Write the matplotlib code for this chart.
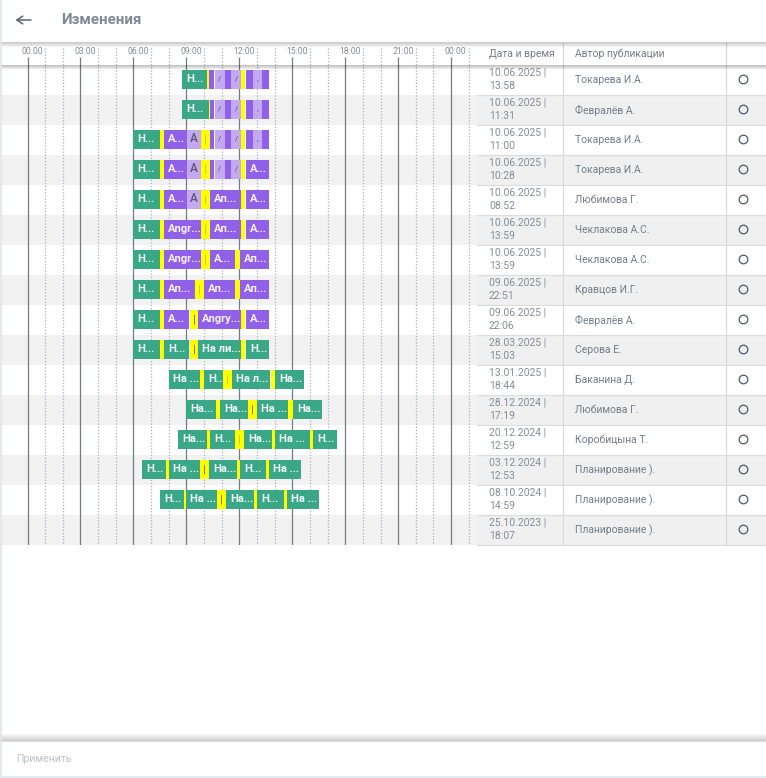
import numpy as np
import matplotlib
matplotlib.use('Agg')
import matplotlib.pyplot as plt

plt.rcParams['font.family'] = ['Roboto', 'DejaVu Sans']

W, H = 766, 778

GREEN = '#3aa887'
PURPLE = '#9160e8'
LIGHT = '#c3a9f1'
YELLOW = '#ffff00'
colors = {'g': GREEN, 'p': PURPLE, 'l': LIGHT, 'y': YELLOW}

# hour ticks
tick_labels = ['00:00', '03:00', '06:00', '09:00', '12:00', '15:00', '18:00', '21:00', '00:00']
tick_hours = [0, 3, 6, 9, 12, 15, 18, 21, 24]
minor_hours = [1, 2, 4, 5, 7, 8, 10, 11, 13, 14, 16, 17, 19, 20, 22, 23, 25]

# table
dates = ['10.06.2025 |', '10.06.2025 |', '10.06.2025 |', '10.06.2025 |', '10.06.2025 |', '10.06.2025 |',
         '10.06.2025 |', '09.06.2025 |', '09.06.2025 |', '28.03.2025 |', '13.01.2025 |', '28.12.2024 |',
         '20.12.2024 |', '03.12.2024 |', '08.10.2024 |', '25.10.2023 |']
times = ['13:58', '11:31', '11:00', '10:28', '08:52', '13:59', '13:59', '22:51', '22:06', '15:03', '18:44',
         '17:19', '12:59', '12:53', '14:59', '18:07']
authors = ['Токарева И.А.', 'Февралёв А.', 'Токарева И.А.', 'Токарева И.А.', 'Любимова Г.', 'Чеклакова А.С.',
           'Чеклакова А.С.', 'Кравцов И.Г.', 'Февралёв А.', 'Серова Е.', 'Баканина Д.', 'Любимова Г.',
           'Коробицына Т.', 'Планирование ).', 'Планирование ).', 'Планирование ).']

# segments per row: start hour, end hour, kind, label
row_01 = [(8.75, 10.17, 'g', 'Н...'), (10.17, 10.28, 'y', ''), (10.28, 10.57, 'p', ''), (10.61, 11.19, 'l', '/'),
          (11.19, 11.53, 'p', ''), (11.53, 12.10, 'l', '/'), (12.10, 12.32, 'y', ''), (12.38, 12.78, 'p', ''),
          (12.78, 13.29, 'l', ','), (13.29, 13.68, 'p', '')]
row_02 = [(8.75, 10.28, 'g', 'Н...'), (10.28, 10.34, 'y', ''), (10.34, 10.57, 'p', ''), (10.61, 11.19, 'l', '/'),
          (11.19, 11.53, 'p', ''), (11.53, 12.10, 'l', '/'), (12.10, 12.32, 'y', ''), (12.38, 12.78, 'p', ''),
          (12.78, 13.29, 'l', ','), (13.29, 13.68, 'p', '')]
row_03 = [(6.00, 7.51, 'g', 'Н...'), (7.51, 7.73, 'y', ''), (7.73, 9.02, 'p', 'А...'), (9.02, 9.83, 'l', 'А'),
          (9.83, 10.34, 'y', '|'), (10.34, 10.57, 'p', ''), (10.61, 11.19, 'l', '/'), (11.19, 11.53, 'p', ''),
          (11.53, 12.10, 'l', '/'), (12.10, 12.32, 'y', ''), (12.38, 12.78, 'p', ''), (12.78, 13.29, 'l', ','),
          (13.29, 13.68, 'p', '')]
row_04 = [(6.00, 7.51, 'g', 'Н...'), (7.51, 7.73, 'y', ''), (7.73, 9.02, 'p', 'А...'), (9.02, 9.83, 'l', 'А'),
          (9.83, 10.34, 'y', '|'), (10.34, 10.57, 'p', ''), (10.61, 11.19, 'l', '/'), (11.19, 11.53, 'p', ''),
          (11.53, 12.10, 'l', '/'), (12.10, 12.32, 'y', ''), (12.38, 13.68, 'p', 'А...')]
row_05 = [(6.00, 7.51, 'g', 'Н...'), (7.51, 7.73, 'y', ''), (7.73, 9.02, 'p', 'А...'), (9.02, 9.83, 'l', 'А'),
          (9.83, 10.34, 'y', '|'), (10.34, 12.10, 'p', 'Ап...'), (12.10, 12.32, 'y', ''), (12.38, 13.68, 'p', 'А...')]
row_06 = [(6.00, 7.51, 'g', 'Н...'), (7.51, 7.73, 'y', ''), (7.73, 9.83, 'p', 'Angr...'), (9.83, 10.34, 'y', '|'),
          (10.34, 12.10, 'p', 'Ап...'), (12.10, 12.32, 'y', ''), (12.38, 13.68, 'p', 'А...')]
row_07 = [(6.00, 7.51, 'g', 'Н...'), (7.51, 7.73, 'y', ''), (7.73, 9.83, 'p', 'Angr...'), (9.83, 10.34, 'y', '|'),
          (10.34, 11.76, 'p', 'А...'), (11.76, 12.04, 'y', ''), (12.04, 13.68, 'p', 'Ап...')]
row_08 = [(6.00, 7.51, 'g', 'Н...'), (7.51, 7.73, 'y', ''), (7.73, 9.49, 'p', 'Ап...'), (9.49, 10.00, 'y', '|'),
          (10.00, 11.76, 'p', 'Ап...'), (11.76, 12.04, 'y', ''), (12.04, 13.68, 'p', 'Ап...')]
row_09 = [(6.00, 7.51, 'g', 'Н...'), (7.51, 7.73, 'y', ''), (7.73, 9.15, 'p', 'А...'), (9.21, 9.66, 'y', '!'),
          (9.66, 12.10, 'p', 'Angry...'), (12.10, 12.32, 'y', ''), (12.38, 13.68, 'p', 'А...')]
row_10 = [(6.00, 7.51, 'g', 'Н...'), (7.51, 7.73, 'y', ''), (7.73, 9.15, 'g', 'Н...'), (9.21, 9.66, 'y', '!'),
          (9.66, 12.10, 'g', 'На ли...'), (12.10, 12.32, 'y', ''), (12.38, 13.68, 'g', 'Н...')]
row_11 = [(8.02, 9.77, 'g', 'На ...'), (9.77, 10.00, 'y', ''), (10.00, 11.08, 'g', 'Н...'), (11.08, 11.59, 'y', '|'),
          (11.59, 13.74, 'g', 'На л...'), (13.80, 14.02, 'y', ''), (14.02, 15.66, 'g', 'На...')]
row_12 = [(9.00, 10.68, 'g', 'На...'), (10.68, 10.91, 'y', ''), (10.91, 12.49, 'g', 'На...'), (12.49, 13.00, 'y', '!'),
          (13.00, 14.76, 'g', 'На ...'), (14.76, 15.04, 'y', ''), (15.04, 16.68, 'g', 'На...')]
row_13 = [(8.53, 10.17, 'g', 'На...'), (10.17, 10.34, 'y', ''), (10.34, 11.76, 'g', 'Н...'), (11.76, 12.27, 'y', '|'),
          (12.27, 13.85, 'g', 'На...'), (13.85, 14.02, 'y', ''), (14.02, 16.00, 'g', 'На ...'), (16.00, 16.17, 'y', ''),
          (16.17, 17.53, 'g', 'Н...')]
row_14 = [(6.49, 7.85, 'g', 'Н...'), (7.85, 8.02, 'y', ''), (8.02, 9.77, 'g', 'На ...'), (9.77, 10.28, 'y', '!'),
          (10.28, 11.87, 'g', 'На...'), (11.87, 12.04, 'y', ''), (12.04, 13.51, 'g', 'Н...'), (13.51, 13.68, 'y', ''),
          (13.68, 15.49, 'g', 'На ...')]
row_15 = [(7.51, 8.87, 'g', 'Н...'), (8.87, 8.98, 'y', ''), (8.98, 10.74, 'g', 'На ...'), (10.74, 11.25, 'y', '!'),
          (11.25, 12.83, 'g', 'На...'), (12.83, 13.00, 'y', ''), (13.00, 14.53, 'g', 'Н...'), (14.53, 14.70, 'y', ''),
          (14.70, 16.51, 'g', 'На ...')]
row_16 = []
rows = [row_01, row_02, row_03, row_04, row_05, row_06, row_07, row_08,
        row_09, row_10, row_11, row_12, row_13, row_14, row_15, row_16]

fig = plt.figure(figsize=(W / 100, H / 100), dpi=100, facecolor='white')


def px_axes(x0, y0, x1, y1, z):
    a = fig.add_axes([x0 / W, 1 - y1 / H, (x1 - x0) / W, (y1 - y0) / H], zorder=z)
    a.patch.set_visible(False)
    a.axis('off')
    return a


# background and table, in pixels
bg = px_axes(0, 0, W, H, 0)
bg.set_xlim(0, W)
bg.set_ylim(H, 0)
for i in range(len(rows)):
    y = 65 + 30 * i
    if i % 2 == 1:
        bg.fill_between([1, 477], y, y + 30, color='#f2f2f2', lw=0)
        bg.fill_between([477, W], y, y + 30, color='#f0f0f0', lw=0)
    bg.plot([477, W], [y + 30, y + 30], color='#dcdcdc', lw=0.8)
    bg.text(489, y + 7.5, dates[i], fontsize=7.5, color='#848d97', va='center')
    bg.text(489, y + 21, times[i], fontsize=7.5, color='#848d97', va='center')
    bg.text(575, y + 15, authors[i], fontsize=7.5, color='#737d88', va='center')
    bg.plot([743], [y + 13.7], 'o', ms=6.2, mfc='none', mec='#4f5964', mew=0.9)
for x in [562.5, 725.5]:
    bg.plot([x, x], [43, 545], color='#d8d8d8', lw=0.8)
bg.text(489, 53.5, 'Дата и время', fontsize=7.5, color='#737d88', va='center')
bg.text(575, 53.5, 'Автор публикации', fontsize=7.5, color='#737d88', va='center')

# timeline, in hours
px_hour = 17.65
ax = px_axes(0, 43, 477, 545, 1)
ax.set_xlim(-27.5 / px_hour, (477 - 27.5) / px_hour)
ax.set_ylim(len(rows), -22 / 30)
ax.vlines(minor_hours, -17 / 30, len(rows), color='#a5b1be', lw=0.9, linestyles=(0, (1, 1.5)), zorder=1)
ax.vlines(tick_hours, -8 / 30, len(rows), color='#717c8a', lw=0.9, zorder=2)
for h, lab in zip(tick_hours, tick_labels):
    ax.text(h + 4.7 / px_hour, -14 / 30, lab, fontsize=6.2, color='#848d97', ha='center', va='center')

for i, segs in enumerate(rows):
    for start, end, kind, label in segs:
        ax.barh(i + 0.483, end - start, left=start, height=19 / 30, color=colors[kind], lw=0, zorder=3)
        if not label:
            continue
        if kind == 'y':
            ax.text((start + end) / 2, i + 0.483, '|', fontsize=8, ha='center', va='center', zorder=4,
                    color='#55552a' if label == '!' else '#b5b54a')
        elif kind == 'l':
            ax.text((start + end) / 2, i + 0.46, label, fontsize=5.5 if label != 'А' else 8.5, ha='center',
                    va='center', color='#5c5a78', fontweight='medium', zorder=4)
        else:
            ax.text(start + 4 / px_hour, i + 0.483, label, fontsize=8, ha='left', va='center', color='white',
                    fontweight='bold', zorder=4, alpha=0.92)

# chrome on top
top = px_axes(0, 0, W, H, 2)
top.set_xlim(0, W)
top.set_ylim(H, 0)


def shadow(x0, x1, y0, y1, strength):
    fade = np.linspace(strength, 0, 16) if y1 > y0 else np.linspace(0, strength, 16)
    rgba = np.zeros((16, 1, 4))
    rgba[:, 0, 3] = fade
    top.imshow(rgba, extent=[x0, x1, max(y0, y1), min(y0, y1)], aspect='auto', interpolation='bilinear')


top.fill_between([0, W], 0, 42, color='white', lw=0)
shadow(0, W, 42, 48, 0.22)
shadow(0, W, 65, 70, 0.26)
top.fill_between([0, W], 741, 776, color='white', lw=0)
shadow(0, W, 741, 733, 0.2)
top.plot([0, W], [741, 741], color='#dcdcdc', lw=0.8)

top.plot([0.7, 0.7], [0, 776], color='#dce7f1', lw=1.2)
top.plot([0, W], [777, 777], color='#dce7f1', lw=1.2)

top.annotate('', xy=(15.5, 20), xytext=(31, 20), arrowprops=dict(arrowstyle='->,head_width=0.28,head_length=0.42',
                                                                  color='#59646f', lw=1.1, shrinkA=0, shrinkB=0))
top.text(61, 20, 'Изменения', fontsize=10.9, fontweight='bold', color='#7f8a96', va='center')
top.text(16, 759.5, 'Применить', fontsize=7.6, color='#bcc3ca', va='center')

top.set_xlim(0, W)
top.set_ylim(H, 0)
fig.savefig('out.png', dpi=100)
